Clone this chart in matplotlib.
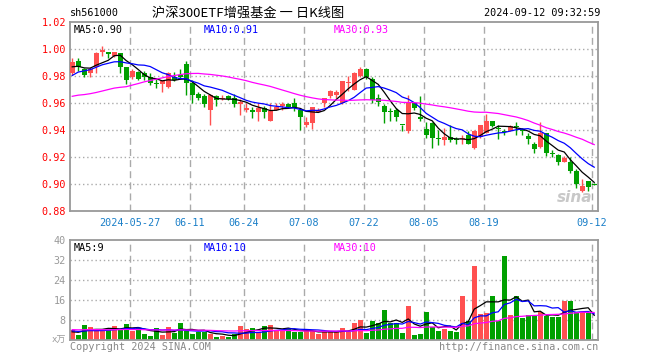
import matplotlib
matplotlib.use("Agg")
import matplotlib.pyplot as plt
import numpy as np
import pandas as pd

plt.rcParams['font.family'] = ['DejaVu Sans Mono', 'Noto Sans CJK SC']

# Daily K-line, 2024-05-13 .. 2024-09-12 (88 trading days)
opens = [0.982, 0.991, 0.985, 0.982, 0.987, 0.998, 0.998, 0.995, 0.997, 0.987,
         0.979, 0.983, 0.982, 0.979, 0.975, 0.974, 0.972, 0.979, 0.981, 0.989,
         0.975, 0.967, 0.965, 0.955, 0.965, 0.963, 0.965, 0.964, 0.959, 0.955,
         0.955, 0.953, 0.956, 0.947, 0.955, 0.958, 0.959, 0.960, 0.955, 0.944,
         0.945, 0.953, 0.960, 0.965, 0.966, 0.960, 0.975, 0.970, 0.980, 0.985,
         0.978, 0.964, 0.958, 0.954, 0.955, 0.944, 0.939, 0.960, 0.950, 0.941,
         0.945, 0.934, 0.9325, 0.935, 0.933, 0.933, 0.936, 0.927, 0.935, 0.938,
         0.947, 0.9415, 0.939, 0.9395, 0.943, 0.9405, 0.9355, 0.9295, 0.9275, 0.9375,
         0.923, 0.9215, 0.9165, 0.9165, 0.910, 0.895, 0.902, 0.900]
highs = [0.993, 0.993, 0.986, 0.987, 0.998, 1.002, 0.998, 0.998, 0.997, 0.987,
         0.985, 0.984, 0.984, 0.982, 0.978, 0.977, 0.983, 0.983, 0.985, 0.991,
         0.977, 0.968, 0.967, 0.967, 0.966, 0.966, 0.966, 0.967, 0.963, 0.960,
         0.957, 0.960, 0.958, 0.960, 0.960, 0.961, 0.960, 0.964, 0.956, 0.950,
         0.957, 0.956, 0.964, 0.970, 0.970, 0.976, 0.980, 0.983, 0.987, 0.986,
         0.979, 0.967, 0.959, 0.956, 0.956, 0.944, 0.966, 0.960, 0.965, 0.946,
         0.946, 0.940, 0.9415, 0.944, 0.935, 0.936, 0.939, 0.940, 0.944, 0.952,
         0.947, 0.944, 0.941, 0.944, 0.946, 0.9415, 0.938, 0.931, 0.946, 0.938,
         0.925, 0.922, 0.9205, 0.920, 0.911, 0.904, 0.902, 0.9005]
lows = [0.981, 0.984, 0.979, 0.979, 0.982, 0.995, 0.993, 0.994, 0.982, 0.974,
        0.978, 0.977, 0.977, 0.973, 0.971, 0.968, 0.971, 0.976, 0.978, 0.966,
        0.960, 0.962, 0.957, 0.944, 0.958, 0.962, 0.962, 0.957, 0.951, 0.953,
        0.949, 0.947, 0.949, 0.947, 0.955, 0.955, 0.956, 0.954, 0.940, 0.942,
        0.941, 0.953, 0.957, 0.964, 0.964, 0.959, 0.969, 0.970, 0.979, 0.978,
        0.960, 0.958, 0.945, 0.947, 0.947, 0.939, 0.938, 0.955, 0.947, 0.934,
        0.927, 0.929, 0.929, 0.931, 0.930, 0.930, 0.930, 0.926, 0.934, 0.938,
        0.942, 0.933, 0.936, 0.939, 0.936, 0.936, 0.930, 0.923, 0.927, 0.921,
        0.920, 0.914, 0.916, 0.9085, 0.897, 0.894, 0.895, 0.899]
closes = [0.990, 0.987, 0.981, 0.985, 0.997, 0.999, 0.996, 0.998, 0.987, 0.977,
          0.984, 0.978, 0.979, 0.975, 0.974, 0.976, 0.982, 0.977, 0.979, 0.975,
          0.966, 0.964, 0.959, 0.966, 0.962, 0.964, 0.963, 0.959, 0.961, 0.956,
          0.953, 0.956, 0.953, 0.954, 0.957, 0.959, 0.957, 0.957, 0.950, 0.946,
          0.957, 0.955, 0.964, 0.969, 0.968, 0.976, 0.9755, 0.982, 0.985, 0.979,
          0.962, 0.961, 0.953, 0.9535, 0.950, 0.9435, 0.960, 0.956, 0.948, 0.936,
          0.934, 0.933, 0.935, 0.9325, 0.9325, 0.934, 0.930, 0.939, 0.944, 0.947,
          0.943, 0.941, 0.9385, 0.943, 0.9425, 0.939, 0.933, 0.926, 0.938, 0.923,
          0.9225, 0.916, 0.919, 0.910, 0.900, 0.8985, 0.898, 0.8995]
volumes = [4.0, 2.0, 6.0, 5.3, 4.0, 4.0, 4.0, 5.6, 4.5, 6.4,
           3.6, 4.9, 2.4, 1.6, 4.9, 2.0, 5.3, 2.9, 6.9, 3.7,
           2.4, 3.3, 3.3, 2.3, 1.3, 1.6, 1.1, 2.4, 5.6, 4.3,
           4.9, 3.3, 5.6, 6.0, 3.7, 3.6, 4.9, 3.3, 3.3, 3.6,
           3.6, 2.4, 3.3, 3.3, 3.3, 4.9, 3.3, 6.7, 8.0, 2.9,
           7.7, 6.7, 12.0, 6.9, 6.7, 2.9, 13.6, 2.0, 2.4, 11.2,
           5.1, 3.7, 4.4, 3.5, 3.3, 17.6, 7.7, 29.7, 10.4, 10.9,
           17.6, 7.7, 33.6, 10.0, 17.6, 8.7, 10.0, 10.0, 11.3, 9.6,
           9.3, 9.3, 15.6, 15.6, 11.3, 11.3, 10.7, 0.5]

# sessions before the window (estimated), only used to seed the moving averages
prior_close = [0.962, 0.968, 0.965, 0.970, 0.967, 0.963, 0.966, 0.969, 0.964,
               0.948, 0.944, 0.941, 0.946, 0.943, 0.948,
               0.952, 0.955, 0.958, 0.956, 0.960, 0.962,
               0.972, 0.976, 0.979, 0.981, 0.985, 0.987, 0.986, 0.986]
prior_volume = [4.5, 5.0, 4.2, 3.8, 4.6, 5.2, 4.0, 4.4, 3.9, 4.8,
                5.1, 4.3, 4.0, 4.7, 4.2, 3.6, 4.4, 5.0, 4.1, 3.9,
                4.6, 4.2, 3.8, 4.4, 3.5, 3.0, 3.2, 2.8, 3.4]

tick_idx = [10, 20, 29, 39, 49, 59, 69, 87]
tick_labels = ['2024-05-27', '06-11', '06-24', '07-08', '07-22', '08-05', '08-19', '09-12']
vol_ticks = [8, 16, 24, 32, 40]

RED = '#ff5050'
GREEN = '#00a000'
GRID = '#aaaaaa'
n = len(closes)
x = np.arange(n)

def moving_avg(vals, prior, w):
    s = pd.Series(prior + vals).rolling(w).mean()
    return s.values[len(prior):]

fig = plt.figure(figsize=(6.6, 3.6), dpi=100)
ax = fig.add_axes([70/660, 1-211/360, 528/660, 189/360])
axv = fig.add_axes([70/660, 1-340/360, 528/660, 100/360])

left, right = -0.37, n - 0.37
for a in (ax, axv):
    a.set_xlim(left, right)
    for s in a.spines.values():
        s.set_color('#999999')
        s.set_linewidth(1.3)
    a.tick_params(length=0)
    for i in tick_idx:
        a.axvline(i - 0.37, color=GRID, ls=(0, (5, 3)), lw=1, zorder=0)

# candles
o = np.array(opens); c = np.array(closes)
cols = [RED if cc >= oo else GREEN for oo, cc in zip(o, c)]
ax.vlines(x, lows, highs, colors=cols, lw=1, zorder=2)
body = np.maximum(np.abs(c - o), 0.0006)
ax.bar(x, body, bottom=np.minimum(o, c), width=0.8, color=cols, zorder=3)

ax.plot(x, moving_avg(closes, prior_close, 5), color='black', lw=0.9, zorder=4)
ax.plot(x, moving_avg(closes, prior_close, 10), color='#0000ff', lw=0.9, zorder=4)
ax.plot(x, moving_avg(closes, prior_close, 30), color='#ff00ff', lw=0.9, zorder=4)

ax.set_ylim(0.88, 1.02)
yt = np.round(np.arange(0.88, 1.021, 0.02), 2)
ax.set_yticks(yt)
ax.set_yticklabels(['%.2f' % v for v in yt], color='red', fontsize=7.3)
for v in yt[1:-1]:
    ax.axhline(v, color=GRID, ls=(0, (1, 2)), lw=1, zorder=0)
ax.set_xticks([i - 0.37 for i in tick_idx])
ax.set_xticklabels(tick_labels, color='#1a7fc8', fontsize=7.3)
ax.tick_params(axis='x', pad=5)
ax.tick_params(axis='y', pad=3)

ax.text(0.006, 0.985, 'MA5:0.90', transform=ax.transAxes, color='black', fontsize=7.3, va='top')
ax.text(0.254, 0.985, 'MA10:0.91', transform=ax.transAxes, color='#0000ff', fontsize=7.3, va='top')
ax.text(0.5, 0.985, 'MA30:0.93', transform=ax.transAxes, color='#ff00ff', fontsize=7.3, va='top')
ax.text(0.99, 0.03, 'sina', transform=ax.transAxes, color='#c8c8c8', fontsize=11,
        style='italic', fontweight='bold', ha='right', va='bottom', family='DejaVu Sans', zorder=1)

# volume
axv.bar(x, volumes, width=0.8, color=cols, zorder=2)
axv.plot(x, moving_avg(volumes, prior_volume, 5), color='black', lw=0.9, zorder=3)
axv.plot(x, moving_avg(volumes, prior_volume, 10), color='#0000ff', lw=0.9, zorder=3)
axv.plot(x, moving_avg(volumes, prior_volume, 30), color='#ff00ff', lw=0.9, zorder=3)
axv.set_ylim(0, 40)
axv.set_yticks(vol_ticks)
axv.set_yticklabels([str(v) for v in vol_ticks], color='#999999', fontsize=7.3)
for v in vol_ticks[:-1]:
    axv.axhline(v, color=GRID, ls=(0, (1, 2)), lw=1, zorder=0)
axv.set_xticks([])
axv.tick_params(axis='y', pad=3)
axv.text(-0.008, 0.0, 'x万', transform=axv.transAxes, color='#999999', fontsize=6.5,
         ha='right', va='center', family=['DejaVu Sans Mono', 'Noto Sans CJK SC'])

axv.text(0.006, 0.97, 'MA5:9', transform=axv.transAxes, color='black', fontsize=7.3, va='top')
axv.text(0.254, 0.97, 'MA10:10', transform=axv.transAxes, color='#0000ff', fontsize=7.3, va='top')
axv.text(0.5, 0.97, 'MA30:10', transform=axv.transAxes, color='#ff00ff', fontsize=7.3, va='top')

# header / footer
fig.text(70/660, 1-13/360, 'sh561000', color='black', fontsize=7.3, va='center')
fig.text(248/660, 1-13/360, '沪深300ETF增强基金 一 日K线图', fontsize=9.5, va='center', ha='center',
         family=['Noto Sans CJK SC', 'DejaVu Sans'])
fig.text(600/660, 1-13/360, '2024-09-12 09:32:59', color='black', fontsize=7.3, va='center', ha='right')
fig.text(70/660, 1-347/360, 'Copyright 2024 SINA.COM', color='#888888', fontsize=7.3, va='center')
fig.text(598/660, 1-347/360, 'http://finance.sina.com.cn', color='#888888', fontsize=7.3,
         va='center', ha='right')

fig.savefig('out.png', dpi=100)
